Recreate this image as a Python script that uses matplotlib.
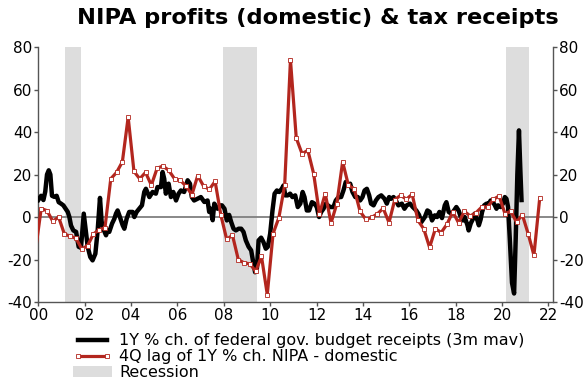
import matplotlib
matplotlib.use("Agg")
import matplotlib.pyplot as plt
from matplotlib.patches import Patch
from matplotlib.lines import Line2D
import numpy as np

plt.rcParams['font.family'] = ['DejaVu Sans']
plt.rcParams['axes.unicode_minus'] = False

title = "NIPA profits (domestic) & tax receipts"
label_receipts = "1Y % ch. of federal gov. budget receipts (3m mav)"
label_profits = "4Q lag of 1Y % ch. NIPA - domestic"
label_recession = "Recession"

# Black series: 1Y % ch. of federal receipts (3m mav), decimal year / value
receipts_t = [2000.0, 2000.12, 2000.22, 2000.30, 2000.375, 2000.45, 2000.52, 2000.59, 2000.69, 2000.79,
              2000.88, 2000.98, 2001.08, 2001.17, 2001.27, 2001.34, 2001.41, 2001.51, 2001.63, 2001.74,
              2001.84, 2001.96, 2002.06, 2002.13, 2002.24, 2002.34, 2002.46, 2002.56, 2002.66, 2002.73,
              2002.77, 2002.92, 2002.99, 2003.06, 2003.18, 2003.28, 2003.35, 2003.42, 2003.52, 2003.64,
              2003.71, 2003.81, 2003.92, 2004.07, 2004.14, 2004.24, 2004.35, 2004.47, 2004.57, 2004.64,
              2004.79, 2004.93, 2005.07, 2005.14, 2005.29, 2005.36, 2005.43, 2005.50, 2005.62, 2005.72,
              2005.82, 2005.94, 2006.05, 2006.15, 2006.29, 2006.44, 2006.54, 2006.62, 2006.72, 2006.87,
              2007.01, 2007.16, 2007.30, 2007.37, 2007.44, 2007.52, 2007.59, 2007.73, 2007.87, 2007.92,
              2008.03, 2008.13, 2008.23, 2008.32, 2008.42, 2008.52, 2008.64, 2008.75, 2008.85, 2008.95,
              2009.07, 2009.18, 2009.28, 2009.35, 2009.43, 2009.50, 2009.61, 2009.71, 2009.81, 2009.90,
              2010.00, 2010.10, 2010.19, 2010.29, 2010.39, 2010.50, 2010.58, 2010.65, 2010.76, 2010.86,
              2010.96, 2011.08, 2011.19, 2011.30, 2011.40, 2011.48, 2011.58, 2011.68, 2011.80, 2011.91,
              2012.01, 2012.11, 2012.20, 2012.30, 2012.40, 2012.49, 2012.59, 2012.73, 2012.83, 2012.95,
              2013.06, 2013.16, 2013.26, 2013.35, 2013.45, 2013.55, 2013.67, 2013.78, 2013.88, 2013.98,
              2014.07, 2014.17, 2014.27, 2014.35, 2014.46, 2014.56, 2014.67, 2014.79, 2014.93, 2015.03,
              2015.13, 2015.22, 2015.32, 2015.42, 2015.53, 2015.68, 2015.79, 2015.89, 2016.03, 2016.15,
              2016.30, 2016.42, 2016.52, 2016.67, 2016.78, 2016.88, 2016.98, 2017.10, 2017.20, 2017.30,
              2017.41, 2017.53, 2017.60, 2017.70, 2017.82, 2017.93, 2018.03, 2018.13, 2018.22, 2018.32,
              2018.39, 2018.51, 2018.56, 2018.65, 2018.75, 2018.82, 2018.94, 2019.00, 2019.08, 2019.14,
              2019.23, 2019.33, 2019.43, 2019.51, 2019.61, 2019.69, 2019.76, 2019.83, 2019.94, 2020.04,
              2020.12, 2020.19, 2020.26, 2020.33, 2020.43, 2020.52, 2020.59, 2020.66, 2020.73, 2020.79,
              2020.84]
receipts_v = [8, 10, 8, 12, 20, 22, 20, 10, 9.5, 10,
              7, 6.3, 5.5, 4, 2.4, 0, -4, -6.3, -7, -14,
              -14.5, 1.6, -7.8, -14, -18.8, -20.4, -17.3, -6.3, 9, -2,
              -4.7, -8.6, -6.3, -7, -3.1, -0.8, 1.6, 3.1, 0, -3.9,
              -5.5, -0.8, 2.4, 2.4, 0, 2.4, 3.9, 5.5, 11.8, 13.3,
              9.4, 11.8, 11, 14.1, 14.1, 21.2, 18, 11, 15.7, 9.4,
              11.8, 7.8, 11, 12.5, 11.8, 17.3, 15.7, 9.4, 7.8, 8.6,
              9.4, 7.1, 7.8, 2.4, 3.9, -1.5, 6.3, 3.9, 5.5, 5.5,
              3.9, -1.6, 1, -2.4, -5.5, -6.3, -5.5, -5.5, -7, -11,
              -14, -15.7, -22, -26, -24, -11, -9.7, -11.8, -14.9, -14,
              -7.8, 3.1, 11, 12.5, 11.8, 13.3, 14.9, 10.2, 10.2, 11,
              9.4, 10.2, 4.7, 6.3, 11.8, 9.4, 3.1, 3.1, 7, 6.3,
              4.7, 0, 2.4, 3.9, 6.3, 5.5, 4.7, 4.7, 7.8, 9.4,
              9.4, 12.5, 16.5, 14.9, 15.7, 11.8, 9.4, 9.4, 7.8, 9.4,
              12.5, 13.3, 10.2, 6.3, 5.5, 7.8, 9.4, 10.2, 8.6, 6.3,
              9.4, 8.6, 9.4, 7.8, 5.5, 6.3, 3.9, 5.5, 6.3, 4.7,
              3.1, 1, -2.4, 0, 3.1, 2.4, -1.6, 0.8, 0, 2.4,
              -0.5, 5.5, 7, 2.4, 1.5, 3.1, 4.7, 3, 0, -1.6,
              0, -3.9, -6.3, -3, -0.8, 1.6, -1.6, -3.9, -1, 2.4,
              5.5, 6.3, 6.3, 7.8, 7, 5.5, 3.9, 5.5, 4.7, 6.3,
              9.4, 8.6, 4.7, -9.4, -31, -36, -10, 20, 40.8, 22,
              8]

# Red series: 4Q lag of 1Y % ch. NIPA domestic profits, quarterly (mid-quarter)
profits_t = [1999.875 + 0.25 * i for i in range(88)]
profits_v = [-16, 4, 3, -2, 0, -8, -9, -10, -15, -13.5,
             -8, -6, -5, 18, 21, 26, 47, 21.5, 18, 21,
             15, 23, 24, 22, 18, 17.3, 14.5, 10.5, 19.5, 14.6,
             13, 16.8, 0.8, -10.5, -8.6, -20, -21.6, -22, -25.6, -18.5,
             -36.5, -7.8, -0.3, 14.9, 74, 37.2, 29.8, 31.4, 20.4, 1.5,
             11, -2.8, 6.3, 26, 14.9, 13.3, 2.7, -1.1, -0.2, 1.5,
             4.1, -2.6, 8.2, 10.2, 8.4, 10.7, -1.6, -5.6, -14.3, -5.5,
             -7.3, -3.4, 2.4, -2.7, 2.7, 0.5, 2, 4.7, 4.7, 8.3,
             9.9, 1.6, 2.7, -2.4, 1.1, -7.8, -18, 8.9]

recession_start = [2001.17, 2007.95, 2020.15]
recession_end = [2001.85, 2009.45, 2021.18]

xtick_years = list(range(2000, 2023, 2))
xtick_labels = ["00", "02", "04", "06", "08", "10", "12", "14", "16", "18", "20", "22"]
ytick_vals = [-40, -20, 0, 20, 40, 60, 80]

RED = "#B3261E"
REC = "#DDDDDD"

fig = plt.figure(figsize=(5.84, 3.83), dpi=100)
ax = fig.add_axes([0.0656, 0.2115, 0.8814, 0.6655])

for s, e in zip(recession_start, recession_end):
    ax.axvspan(s, e, color=REC, lw=0, zorder=0)

ax.axhline(0, color="#7f7f7f", lw=1.3, zorder=1)

ax.plot(receipts_t, receipts_v, color="black", lw=3.2, zorder=3, solid_joinstyle="round")
ax.plot(profits_t, profits_v, color=RED, lw=2.3, zorder=4, marker="s", markersize=2.6,
        markerfacecolor="white", markeredgecolor=RED, markeredgewidth=0.6)

ax.set_xlim(2000, 2022.2)
ax.set_ylim(-40, 80)
ax.set_xticks(xtick_years)
ax.set_xticklabels(xtick_labels)
ax.set_yticks(ytick_vals)

ax.spines["top"].set_visible(False)
for sp in ["left", "right", "bottom"]:
    ax.spines[sp].set_color("#555555")
    ax.spines[sp].set_linewidth(1.0)

ax.tick_params(axis="both", labelsize=11, colors="#555555", labelcolor="black",
               direction="out", length=3, width=1.0)
ax.tick_params(axis="y", left=True, right=True, labelleft=True, labelright=True, pad=1.5)
ax.tick_params(axis="x", pad=1.0)

fig.text(0.544, 0.98, title, ha="center", va="top", fontsize=16.2, fontweight="bold")

handles = [
    Line2D([], [], color="black", lw=3.2),
    Line2D([], [], color=RED, lw=2.3, marker="s", markersize=2.6, markerfacecolor="white",
           markeredgecolor=RED, markeredgewidth=0.6),
    Patch(facecolor=REC, edgecolor="none"),
]
fig.legend(handles, [label_receipts, label_profits, label_recession],
           loc="upper left", bbox_to_anchor=(0.125, 0.13), frameon=False,
           fontsize=11.5, numpoints=2, handlelength=2.45, handletextpad=0.45,
           labelspacing=0.07, borderaxespad=0, borderpad=0)

fig.savefig("out.png", dpi=100)
